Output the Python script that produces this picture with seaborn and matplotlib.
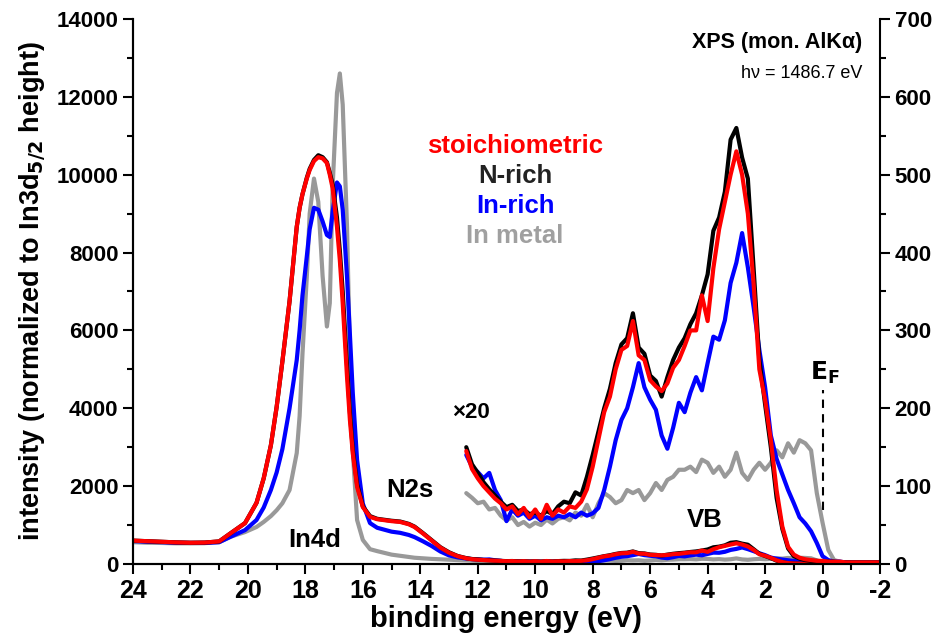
import numpy as np
import pandas as pd
import seaborn as sns
import matplotlib.pyplot as plt
from matplotlib.ticker import MultipleLocator

# %% core level region (In4d, N2s) - unscaled intensity
energy_core = [24.0, 23.5, 23.0, 22.5, 22.0, 21.5, 21.0, 20.6, 20.1, 19.7, 19.45, 19.2,
               19.0, 18.8, 18.55, 18.3, 18.2, 18.1, 17.95, 17.85, 17.7, 17.55, 17.4,
               17.25, 17.15, 17.05, 16.9, 16.8, 16.7, 16.55, 16.45, 16.35, 16.2, 16.0,
               15.75, 15.5, 15.0, 14.7, 14.4, 14.2, 13.9, 13.6, 13.3, 13.0, 12.7]
nrich_core = [600, 585, 570, 555, 545, 550, 580, 790, 1050, 1570, 2200, 3050,
              4030, 5200, 6750, 8660, 9150, 9500, 9920, 10150, 10380, 10500, 10450,
              10320, 10050, 9750, 8900, 8050, 7000, 5100, 3900, 2950, 2050, 1480,
              1230, 1160, 1110, 1090, 1030, 960, 790, 610, 430, 300, 205]
stoich_core = [600, 585, 570, 555, 545, 550, 580, 790, 1050, 1570, 2200, 3050,
               4030, 5200, 6750, 8660, 9150, 9500, 9900, 10120, 10350, 10450, 10420,
               10300, 10000, 9650, 8660, 7800, 6700, 4800, 3700, 2850, 1980, 1460,
               1210, 1150, 1100, 1080, 1020, 950, 780, 600, 420, 290, 200]
inrich_core = [590, 570, 560, 545, 540, 540, 560, 700, 870, 1130, 1450, 1900,
               2350, 2950, 4000, 5240, 6000, 6900, 7900, 8600, 9150, 9100, 8800,
               8450, 8400, 9050, 9800, 9700, 9100, 7370, 5900, 4400, 2670, 1550,
               1050, 930, 830, 800, 745, 690, 580, 460, 320, 220, 170]
inmetal_core = [560, 545, 540, 530, 530, 535, 560, 700, 820, 950, 1080, 1230,
                1380, 1560, 1900, 2850, 3800, 5400, 7370, 9000, 9900, 9300, 7400,
                6100, 6700, 9700, 12100, 12600, 11800, 8660, 5400, 2900, 1130, 617,
                380, 330, 240, 210, 180, 160, 145, 130, 120, 110, 100]

# %% valence band region - counts (right axis = shown x20 on left axis)
energy_vb = [12.4, 12.2, 12.0, 11.8, 11.6, 11.4, 11.2, 11.0, 10.8, 10.6, 10.4, 10.2,
             10.0, 9.8, 9.6, 9.4, 9.2, 9.0, 8.8, 8.6, 8.4, 8.2, 8.0, 7.8, 7.6, 7.4,
             7.2, 7.0, 6.8, 6.6, 6.4, 6.2, 6.0, 5.8, 5.6, 5.4, 5.2, 5.0, 4.8, 4.6,
             4.4, 4.2, 4.0, 3.8, 3.6, 3.4, 3.2, 3.0, 2.8, 2.6, 2.4, 2.2, 2.0, 1.8,
             1.6, 1.4, 1.2, 1.0, 0.8, 0.6, 0.4, 0.2, 0.0, -0.2, -0.4, -0.6, -0.8,
             -1.0, -1.2, -1.4, -1.6, -1.8, -2.0]
nrich_vb = [150, 128, 117, 105, 96, 88, 80, 73, 76, 68, 70, 64,
            66, 62, 68, 64, 74, 80, 78, 92, 88, 112, 140, 170, 200, 225,
            258, 282, 290, 322, 278, 270, 242, 235, 215, 240, 262, 278, 290, 308,
            322, 345, 372, 428, 445, 478, 545, 560, 522, 495, 380, 262, 205, 150,
            85, 45, 20, 10, 7, 5, 4, 4, 3, 3, 3, 2,
            2, 2, 2, 2, 2, 2, 2]
stoich_vb = [145, 122, 110, 100, 92, 84, 78, 70, 74, 64, 72, 60,
             70, 58, 76, 62, 70, 66, 74, 72, 80, 96, 125, 160, 195, 215,
             250, 275, 280, 312, 268, 262, 236, 228, 222, 232, 252, 262, 280, 300,
             300, 345, 312, 380, 430, 465, 500, 530, 500, 450, 360, 250, 211, 159,
             95, 48, 22, 12, 8, 6, 5, 4, 4, 3, 3, 3,
             2, 2, 2, 2, 2, 2, 2]
inrich_vb = [140, 125, 118, 110, 117, 95, 82, 55, 70, 62, 66, 58,
             62, 56, 60, 58, 62, 60, 64, 60, 66, 62, 65, 72, 95, 125,
             159, 185, 200, 227, 258, 227, 211, 198, 165, 148, 175, 207, 195, 220,
             240, 223, 258, 292, 288, 313, 361, 387, 425, 381, 330, 275, 227, 165,
             135, 115, 95, 78, 60, 52, 42, 27, 10, 5, 3, 3,
             2, 2, 2, 2, 2, 2, 2]
inmetal_vb = [91, 85, 78, 80, 70, 72, 62, 56, 60, 50, 54, 48,
              53, 50, 57, 52, 58, 60, 56, 66, 62, 76, 60, 78, 91, 86,
              78, 82, 95, 91, 95, 82, 91, 104, 95, 108, 112, 121, 121, 125,
              118, 134, 130, 117, 125, 112, 121, 143, 117, 108, 121, 130, 121, 130,
              146, 137, 155, 143, 159, 155, 146, 91, 53, 18, 5, 3,
              2, 2, 2, 2, 2, 2, 2]

samples = ['In metal', 'In-rich', 'N-rich', 'stoichiometric']
colors = {'stoichiometric': '#ff0000', 'N-rich': '#000000',
          'In-rich': '#0000ff', 'In metal': '#999999'}
core = {'N-rich': nrich_core, 'stoichiometric': stoich_core,
        'In-rich': inrich_core, 'In metal': inmetal_core}
vb = {'N-rich': nrich_vb, 'stoichiometric': stoich_vb,
      'In-rich': inrich_vb, 'In metal': inmetal_vb}

rows_full = []
rows_vb = []
for s in samples:
    for e, v in zip(energy_core + energy_vb, core[s] + vb[s]):
        rows_full.append({'energy': e, 'intensity': v, 'sample': s})
    for e, v in zip(energy_vb, vb[s]):
        rows_vb.append({'energy': e, 'intensity': v, 'sample': s})
df_full = pd.DataFrame(rows_full)
df_vb = pd.DataFrame(rows_vb)

# %%
sns.set_style('ticks')
plt.rcParams['font.family'] = ['Liberation Sans', 'DejaVu Sans']
plt.rcParams['font.weight'] = 'bold'
plt.rcParams['axes.unicode_minus'] = False
plt.rcParams['mathtext.default'] = 'bf'
for k in ['text.color', 'axes.labelcolor', 'xtick.color', 'ytick.color', 'axes.edgecolor']:
    plt.rcParams[k] = 'black'

fig = plt.figure(figsize=(9.41, 6.43), dpi=100)
ax = fig.add_axes([0.1413, 0.1229, 0.7939, 0.8476])
ax2 = ax.twinx()

sns.lineplot(data=df_full, x='energy', y='intensity', hue='sample', hue_order=samples,
             palette=colors, lw=3.0, estimator=None, legend=False, ax=ax)
sns.lineplot(data=df_vb, x='energy', y='intensity', hue='sample', hue_order=samples,
             palette=colors, lw=3.0, estimator=None, legend=False, ax=ax2)

ax.set_xlim(24, -2)
ax.set_ylim(0, 14000)
ax2.set_ylim(0, 700)

ax.xaxis.set_major_locator(MultipleLocator(2))
ax.xaxis.set_minor_locator(MultipleLocator(1))
ax.yaxis.set_major_locator(MultipleLocator(2000))
ax.yaxis.set_minor_locator(MultipleLocator(1000))
ax2.yaxis.set_major_locator(MultipleLocator(100))
ax2.yaxis.set_minor_locator(MultipleLocator(50))

for a in (ax, ax2):
    a.spines['top'].set_visible(False)
    for sp in a.spines.values():
        sp.set_linewidth(1.5)
    a.tick_params(which='major', direction='out', length=7, width=1.5, labelsize=16)
    a.tick_params(which='minor', direction='out', length=4, width=1.5)
ax.spines['right'].set_visible(False)
ax.tick_params(axis='x', labelsize=18, pad=4)
for lab in ax.get_xticklabels() + ax.get_yticklabels() + ax2.get_yticklabels():
    lab.set_fontweight('bold')

ax.set_xlabel('binding energy (eV)', fontsize=21, fontweight='bold', labelpad=1)
ax.set_ylabel(r'intensity (normalized to In3d$_{5/2}$ height)', fontsize=19.5,
              fontweight='bold', labelpad=6)
ax2.set_ylabel('')

# annotations
ax.text(-1.37, 13385, 'XPS (mon. AlKα)', ha='right', va='center', fontsize=15.5, fontweight='bold')
ax.text(-1.37, 12610, 'hν = 1486.7 eV', ha='right', va='center', fontsize=13, fontweight='normal')
ax.text(10.7, 10740, 'stoichiometric', color='#ff0000', ha='center', va='center', fontsize=18.5, fontweight='bold')
ax.text(10.7, 9970, 'N-rich', color='#222222', ha='center', va='center', fontsize=18.5, fontweight='bold')
ax.text(10.7, 9200, 'In-rich', color='#0000ff', ha='center', va='center', fontsize=18.5, fontweight='bold')
ax.text(10.7, 8430, 'In metal', color='#a0a0a0', ha='center', va='center', fontsize=18.5, fontweight='bold')
ax.text(12.24, 3900, '×20', ha='center', va='center', fontsize=16, fontweight='bold')
ax.text(14.36, 1900, 'N2s', ha='center', va='center', fontsize=18.5, fontweight='bold')
ax.text(17.67, 620, 'In4d', ha='center', va='center', fontsize=18.5, fontweight='bold')
ax.text(4.09, 1130, 'VB', ha='center', va='center', fontsize=18.5, fontweight='bold')
ax.text(-0.09, 4900, r'$\mathbf{E_F}$', ha='center', va='center', fontsize=18)
ax.plot([0, 0], [1390, 4470], color='black', lw=1.5, ls=(0, (4, 3)))

fig.savefig('out.png', dpi=100)
